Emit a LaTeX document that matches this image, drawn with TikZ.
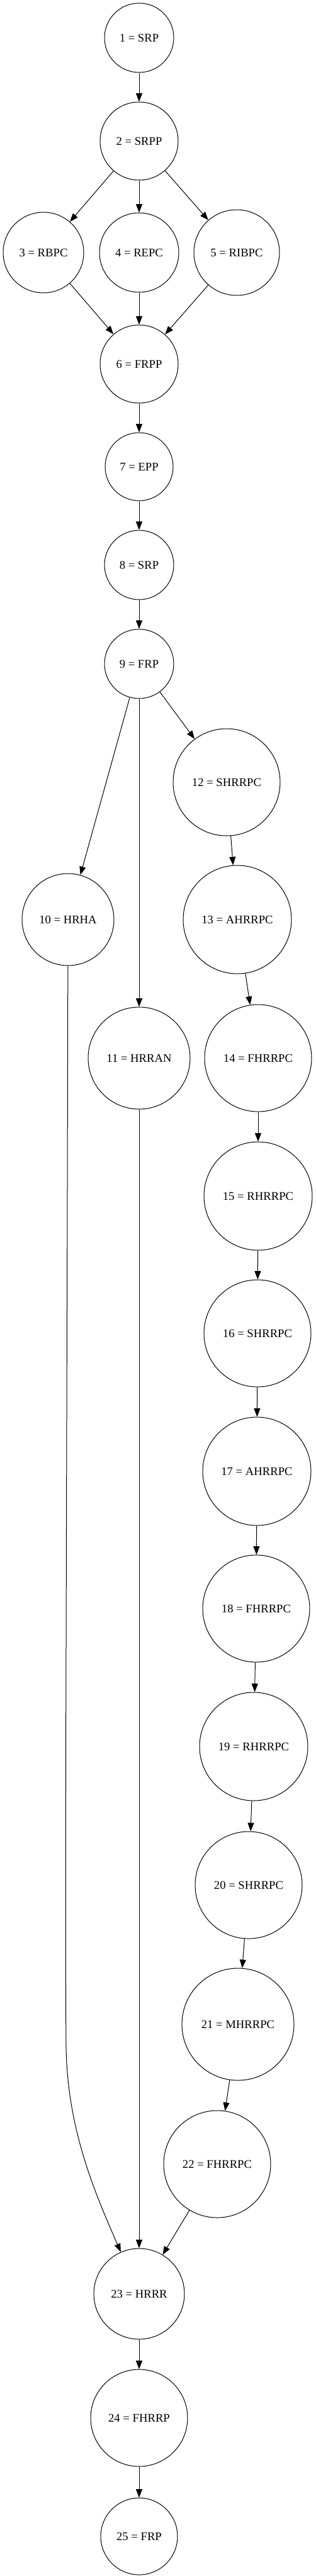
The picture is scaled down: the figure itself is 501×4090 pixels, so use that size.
\documentclass[tikz,border=0pt]{standalone}
\usepackage{fontspec}
\setmainfont{Liberation Serif}
\usepackage{tikz}
\usetikzlibrary{arrows.meta, calc, positioning}

\tikzset{
    nut/.style={circle, draw, line width=0.75pt, inner sep=0pt, minimum size=#1*1.5pt, font=\fontsize{14}{16}\selectfont},
    canh/.style={line width=0.75pt, -{Triangle[length=10pt, width=7.5pt]}}
}

\begin{document}
\begin{tikzpicture}[x=0.75pt, y=-0.75pt] % Tỉ lệ hình (1 đơn vị = 1 điểm ảnh)

            \useasboundingbox (0,0) rectangle (501,4090); % Khung hình

            % Vẽ các nút
            \node[nut=55] (n1) at (221,60) {1 = SRP};
            \node[nut=62] (n2) at (221,224) {2 = SRPP};
            \node[nut=64] (n3) at (69,401) {3 = RBPC};
            \node[nut=63] (n4) at (221,401) {4 = REPC};
            \node[nut=68] (n5) at (376,401) {5 = RIBPC};
            \node[nut=62] (n6) at (221,578) {6 = FRPP};
            \node[nut=54] (n7) at (221,741) {7 = EPP};
            \node[nut=55] (n8) at (221,897) {8 = SRP};
            \node[nut=55] (n9) at (221,1054) {9 = FRP};
            \node[nut=73] (n10) at (108,1460) {10 = HRHA};
            \node[nut=81] (n11) at (221,1680) {11 = HRRAN};
            \node[nut=85] (n12) at (360,1242) {12 = SHRRPC};
            \node[nut=86] (n13) at (377,1460) {13 = AHRRPC};
            \node[nut=85] (n14) at (410,1680) {14 = FHRRPC};
            \node[nut=86] (n15) at (410,1899) {15 = RHRRPC};
            \node[nut=85] (n16) at (409,2117) {16 = SHRRPC};
            \node[nut=86] (n17) at (408,2336) {17 = AHRRPC};
            \node[nut=85] (n18) at (407,2554) {18 = FHRRPC};
            \node[nut=86] (n19) at (403,2773) {19 = RHRRPC};
            \node[nut=85] (n20) at (395,2993) {20 = SHRRPC};
            \node[nut=89] (n21) at (378,3214) {21 = MHRRPC};
            \node[nut=85] (n22) at (345,3436) {22 = FHRRPC};
            \node[nut=72] (n23) at (221,3642) {23 = HRRR};
            \node[nut=77] (n24) at (221,3839) {24 = FHRRP};
            \node[nut=61] (n25) at (221,4027) {25 = FRP};

            % Vẽ các cạnh
            \draw[canh] (n1) -- (n2);
            \draw[canh] (n2) -- (n3);
            \draw[canh] (n2) -- (n4);
            \draw[canh] (n2) -- (n5);
            \draw[canh] (n3) -- (n6);
            \draw[canh] (n4) -- (n6);
            \draw[canh] (n5) -- (n6);
            \draw[canh] (n6) -- (n7);
            \draw[canh] (n7) -- (n8);
            \draw[canh] (n8) -- (n9);
            \draw[canh] (n9) -- (n10);
            \draw[canh] (n9) -- (n11);
            \draw[canh] (n9) -- (n12);
            \draw[canh] (n12) -- (n13);
            \draw[canh] (n13) -- (n14);
            \draw[canh] (n14) -- (n15);
            \draw[canh] (n15) -- (n16);
            \draw[canh] (n16) -- (n17);
            \draw[canh] (n17) -- (n18);
            \draw[canh] (n18) -- (n19);
            \draw[canh] (n19) -- (n20);
            \draw[canh] (n20) -- (n21);
            \draw[canh] (n21) -- (n22);
            \draw[canh] (n22) -- (n23);
            \draw[canh] (n11) -- (n23);
            \coordinate (u10) at (105,3250); % Điểm uốn của cạnh 10 -> 23
            \draw[canh] (n10) .. controls (106,2400) and (103,3000) .. (u10)
                              .. controls (107,3380) and (150,3480) .. (n23);
            \draw[canh] (n23) -- (n24);
            \draw[canh] (n24) -- (n25);

\end{tikzpicture}
\end{document}
